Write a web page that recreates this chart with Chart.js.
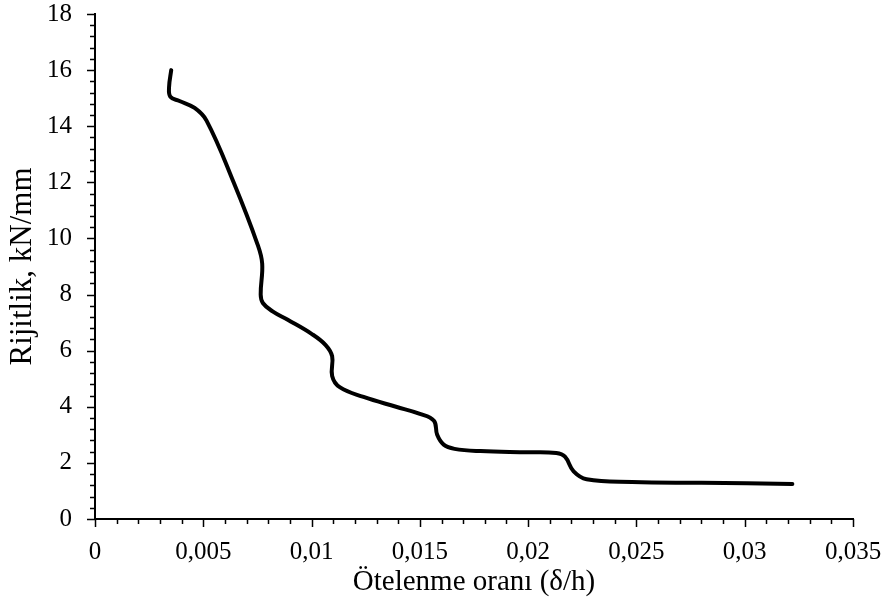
<!DOCTYPE html>
<html>
<head>
<meta charset="utf-8">
<title>Rijitlik - Ötelenme oranı</title>
<script src="https://cdn.jsdelivr.net/npm/chart.js@4.4.1/dist/chart.umd.min.js"></script>
<style>
  html, body { margin: 0; padding: 0; background: #fff; }
  #wrap { width: 887px; height: 604px; }
</style>
</head>
<body>
<div id="wrap"><canvas id="stiffChart" width="887" height="604"></canvas></div>
<script>
// Drift ratio (δ/h)
const driftRatio = [
  0.00352, 0.00342, 0.00348, 0.0039, 0.0046, 0.00515, 0.0064, 0.0075,
  0.00772, 0.00765, 0.00775, 0.0082, 0.0089, 0.0100, 0.01065, 0.01095,
  0.01095, 0.0113, 0.0124, 0.0139, 0.0150, 0.01565, 0.0158, 0.0161,
  0.0166, 0.0178, 0.0200, 0.0213, 0.0217, 0.0221, 0.0227, 0.0248,
  0.0280, 0.0322
];

// Stiffness, kN/mm
const stiffness = [
  16.0, 15.4, 15.05, 14.9, 14.65, 14.2, 12.0, 9.8,
  9.1, 8.0, 7.7, 7.4, 7.1, 6.6, 6.2, 5.8,
  5.1, 4.7, 4.35, 4.0, 3.75, 3.5, 3.0, 2.65,
  2.5, 2.42, 2.38, 2.35, 2.22, 1.7, 1.42, 1.32,
  1.29, 1.25
];

// Axis ranges and tick spacing
const xRange = [0, 0.035];
const xMajorStep = 0.005;
const xMinorStep = 0.001;
const yRange = [0, 18];
const yMajorStep = 2;
const yMinorStep = 0.4;

const serif = "'Liberation Serif', 'Times New Roman', serif";

// Build {x, y} points from the two arrays
const points = driftRatio.map((d, i) => ({ x: d, y: stiffness[i] }));

// Draws the axis tick marks (major and minor) outside the plot area
const tickMarks = {
  id: "tickMarks",
  afterDraw(chart) {
    const ctx = chart.ctx;
    const xs = chart.scales.x;
    const ys = chart.scales.y;
    const axisY = ys.getPixelForValue(yRange[0]);
    const axisX = xs.getPixelForValue(xRange[0]);
    ctx.save();
    ctx.strokeStyle = "#000";
    ctx.lineWidth = 1.5;
    ctx.beginPath();
    // x-axis ticks
    const nx = Math.round((xRange[1] - xRange[0]) / xMinorStep);
    for (let i = 0; i <= nx; i++) {
      const px = Math.round(xs.getPixelForValue(xRange[0] + i * xMinorStep)) + 0.5;
      const len = i % 5 === 0 ? 8 : 5;
      ctx.moveTo(px, axisY);
      ctx.lineTo(px, axisY + len);
    }
    // y-axis ticks
    const ny = Math.round((yRange[1] - yRange[0]) / yMinorStep);
    for (let i = 0; i <= ny; i++) {
      const py = Math.round(ys.getPixelForValue(yRange[0] + i * yMinorStep)) + 0.5;
      const len = i % 5 === 0 ? 8 : 5;
      ctx.moveTo(axisX, py);
      ctx.lineTo(axisX - len, py);
    }
    ctx.stroke();
    ctx.restore();
  },
};

function commaLabel(v) {
  return Number(v.toFixed(3)).toString().replace(".", ",");
}

new Chart(document.getElementById("stiffChart"), {
  type: "scatter",
  data: {
    datasets: [
      {
        data: points,
        showLine: true,
        borderColor: "#000",
        borderWidth: 4,
        borderCapStyle: "round",
        borderJoinStyle: "round",
        tension: 0.4,
        pointRadius: 0,
        pointHoverRadius: 0,
        fill: false,
      },
    ],
  },
  options: {
    responsive: false,
    animation: false,
    layout: { padding: 0 },
    plugins: {
      legend: { display: false },
      tooltip: { enabled: false },
    },
    scales: {
      x: {
        type: "linear",
        min: xRange[0],
        max: xRange[1],
        // fixed axis box: plot ends 34px from the right edge
        afterFit(scale) {
          scale.height = 85;
          scale.paddingLeft = 0;
          scale.paddingRight = 34;
        },
        grid: { display: false, drawTicks: false },
        border: { display: true, color: "#000", width: 2 },
        ticks: {
          stepSize: xMajorStep,
          color: "#000",
          padding: 21,
          maxRotation: 0,
          autoSkip: false,
          font: { family: serif, size: 25, lineHeight: 1 },
          callback: (v) => commaLabel(v),
        },
        title: {
          display: true,
          text: "Ötelenme oranı (δ/h)",
          color: "#000",
          font: { family: serif, size: 29, lineHeight: 1.2 },
          padding: { top: 0, bottom: 4 },
        },
      },
      y: {
        type: "linear",
        min: yRange[0],
        max: yRange[1],
        // fixed axis box: plot starts 14px below the top edge
        afterFit(scale) {
          scale.width = 95;
          scale.paddingTop = 14;
          scale.paddingBottom = 0;
        },
        grid: { display: false, drawTicks: false },
        border: { display: true, color: "#000", width: 2 },
        ticks: {
          stepSize: yMajorStep,
          color: "#000",
          padding: 23,
          font: { family: serif, size: 25, lineHeight: 1 },
        },
        title: {
          display: true,
          text: "Rijitlik, kN/mm",
          color: "#000",
          font: { family: serif, size: 31, lineHeight: 1.2 },
          padding: { top: 4, bottom: 0 },
        },
      },
    },
  },
  plugins: [tickMarks],
});
</script>
</body>
</html>
